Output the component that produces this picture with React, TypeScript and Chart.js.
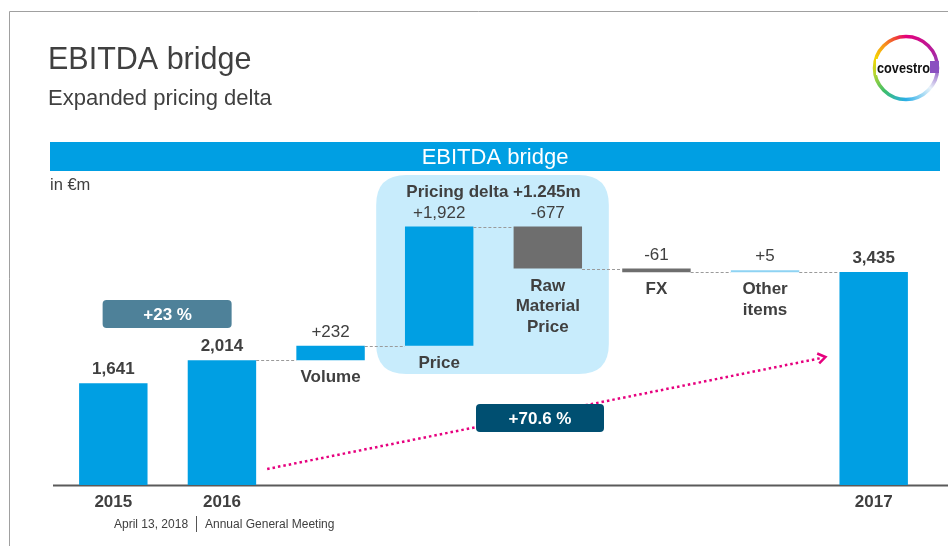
import React, { useEffect, useRef } from "react";
import { Chart, registerables } from "chart.js";

Chart.register(...registerables);

// ---- data ----
const categories = ["2015", "2016", "Volume", "Price", "Raw Material Price", "FX", "Other items", "2017"];
const total2015 = 1641;
const total2016 = 2014;
const deltas = [232, 1922, -677, -61, 5]; // Volume, Price, Raw Material Price, FX, Other items
const total2017 = 3435;
const valueLabels = ["1,641", "2,014", "+232", "+1,922", "-677", "-61", "+5", "3,435"];
const valueBold = [true, true, false, false, false, false, false, true];
const barLabels = [[], [], ["Volume"], ["Price"], ["Raw", "Material", "Price"], ["FX"], ["Other", "items"], []];
const yearLabels = ["2015", "2016", "", "", "", "", "", "2017"];
const barKinds = ["total", "total", "up", "up", "down", "down", "small", "total"];
const pricingDeltaLabel = "Pricing delta +1.245m";
const growth2016Label = "+23 %";
const growth2017Label = "+70.6 %";

const FONT = '"Liberation Sans", Arial, sans-serif';
const BLUE = "#009FE3";
const GREY_BAR = "#6E6E6E";
const LIGHT = "#8ED3F3";
const TEXT = "#404040";

function buildFloats(): [number, number][] {
  const out: [number, number][] = [[0, total2015], [0, total2016]];
  let cum = total2016;
  for (const d of deltas) {
    out.push([cum, cum + d]);
    cum += d;
  }
  out.push([0, total2017]);
  return out;
}

function roundRect(ctx: CanvasRenderingContext2D, x: number, y: number, w: number, h: number, r: number) {
  ctx.beginPath();
  ctx.moveTo(x + r, y);
  ctx.lineTo(x + w - r, y);
  ctx.quadraticCurveTo(x + w, y, x + w, y + r);
  ctx.lineTo(x + w, y + h - r);
  ctx.quadraticCurveTo(x + w, y + h, x + w - r, y + h);
  ctx.lineTo(x + r, y + h);
  ctx.quadraticCurveTo(x, y + h, x, y + h - r);
  ctx.lineTo(x, y + r);
  ctx.quadraticCurveTo(x, y, x + r, y);
  ctx.closePath();
}

export default function App() {
  const ref = useRef<HTMLCanvasElement | null>(null);

  useEffect(() => {
    const canvas = ref.current;
    if (!canvas) return;
    const floats = buildFloats();
    const colors = barKinds.map((k) => (k === "down" ? GREY_BAR : k === "small" ? LIGHT : BLUE));

    const decorations = {
      id: "decorations",
      beforeDatasetsDraw(chart: any) {
        const ctx: CanvasRenderingContext2D = chart.ctx;
        const area = chart.chartArea;
        const xs = chart.scales.x;
        const W = chart.width;
        const H = chart.height;
        ctx.save();
        ctx.fillStyle = "#ffffff";
        ctx.fillRect(0, 0, W, H);
        // slide frame
        ctx.strokeStyle = "#a0a0a0";
        ctx.lineWidth = 1;
        ctx.beginPath();
        ctx.moveTo(9.5, H);
        ctx.lineTo(9.5, 11.5);
        ctx.lineTo(W, 11.5);
        ctx.stroke();
        // titles
        ctx.fillStyle = TEXT;
        ctx.textAlign = "left";
        ctx.textBaseline = "alphabetic";
        ctx.font = `30.5px ${FONT}`;
        ctx.fillText("EBITDA bridge", 48, 69);
        ctx.font = `22px ${FONT}`;
        ctx.fillText("Expanded pricing delta", 48, 105);
        // logo
        const cx = 906, cy = 68, r = 31.5;
        const g = (ctx as any).createConicGradient(-Math.PI / 2, cx, cy);
        g.addColorStop(0, "#E4007C");
        g.addColorStop(0.17, "#B0209E");
        g.addColorStop(0.25, "#8A4FC0");
        g.addColorStop(0.36, "#E8F2FA");
        g.addColorStop(0.5, "#2AAEE8");
        g.addColorStop(0.62, "#3DBE6A");
        g.addColorStop(0.72, "#B6D630");
        g.addColorStop(0.8, "#F5D400");
        g.addColorStop(0.88, "#F7941D");
        g.addColorStop(0.95, "#EF4136");
        g.addColorStop(1, "#E4007C");
        ctx.strokeStyle = g;
        ctx.lineWidth = 3.5;
        ctx.beginPath();
        ctx.arc(cx, cy, r, 0, Math.PI * 2);
        ctx.stroke();
        ctx.fillStyle = "#ffffff";
        ctx.fillRect(876, 59, 54, 16);
        ctx.fillStyle = "#8A4FC0";
        ctx.fillRect(930, 61, 9, 12);
        ctx.fillStyle = "#111111";
        ctx.font = `bold 15px ${FONT}`;
        const tw = ctx.measureText("covestro").width;
        ctx.save();
        ctx.translate(877, 73);
        ctx.scale(53 / tw, 1);
        ctx.fillText("covestro", 0, 0);
        ctx.restore();
        // banner
        ctx.fillStyle = "#009FE3";
        ctx.fillRect(50, 142, 890, 29);
        ctx.fillStyle = "#ffffff";
        ctx.textAlign = "center";
        ctx.font = `22px ${FONT}`;
        ctx.fillText("EBITDA bridge", 495, 164);
        // unit
        ctx.fillStyle = TEXT;
        ctx.textAlign = "left";
        ctx.font = `16.5px ${FONT}`;
        ctx.fillText("in €m", 50, 190);
        // pricing delta highlight box
        const pX = xs.getPixelForValue(3);
        const rX = xs.getPixelForValue(4);
        ctx.fillStyle = "#C8ECFC";
        roundRect(ctx, pX - 63, area.top, rX - pX + 124, 199, 30);
        ctx.fill();
        // baseline
        ctx.strokeStyle = "#5a5a5a";
        ctx.lineWidth = 2;
        ctx.beginPath();
        ctx.moveTo(53, area.bottom + 0.5);
        ctx.lineTo(W, area.bottom + 0.5);
        ctx.stroke();
        // footer
        ctx.fillStyle = TEXT;
        ctx.font = `12px ${FONT}`;
        ctx.textAlign = "left";
        ctx.fillText("April 13, 2018", 114, 528);
        ctx.fillText("Annual General Meeting", 205, 528);
        ctx.strokeStyle = "#555";
        ctx.lineWidth = 1;
        ctx.beginPath();
        ctx.moveTo(196.5, 516);
        ctx.lineTo(196.5, 532);
        ctx.stroke();
        ctx.restore();
      },
      afterDatasetsDraw(chart: any) {
        const ctx: CanvasRenderingContext2D = chart.ctx;
        const area = chart.chartArea;
        const xs = chart.scales.x;
        const ys = chart.scales.y;
        const els = chart.getDatasetMeta(0).data;
        ctx.save();
        // connectors
        ctx.strokeStyle = "#9a9a9a";
        ctx.lineWidth = 1;
        ctx.setLineDash([3, 2]);
        for (let i = 1; i < els.length - 1; i++) {
          const level = floats[i][1];
          const y = Math.round(ys.getPixelForValue(level)) + 0.5;
          const a = els[i];
          const b = els[i + 1];
          ctx.beginPath();
          ctx.moveTo(a.x + a.width / 2, y);
          ctx.lineTo(b.x - b.width / 2, y);
          ctx.stroke();
        }
        ctx.setLineDash([]);
        // labels
        ctx.fillStyle = TEXT;
        ctx.textAlign = "center";
        ctx.textBaseline = "alphabetic";
        for (let i = 0; i < els.length; i++) {
          const el = els[i];
          const top = Math.min(el.y, el.base);
          const bottom = Math.max(el.y, el.base);
          ctx.font = `${valueBold[i] ? "bold " : ""}17px ${FONT}`;
          ctx.fillText(valueLabels[i], el.x, top - 9);
          ctx.font = `bold 17px ${FONT}`;
          barLabels[i].forEach((t, k) => ctx.fillText(t, el.x, bottom + 22 + k * 20.5));
          if (yearLabels[i]) ctx.fillText(yearLabels[i], el.x, area.bottom + 22);
        }
        // pricing delta title
        ctx.font = `bold 17px ${FONT}`;
        ctx.fillText(pricingDeltaLabel, (xs.getPixelForValue(3) + xs.getPixelForValue(4)) / 2, 197);
        // +23 % box
        const m01 = (xs.getPixelForValue(0) + xs.getPixelForValue(1)) / 2;
        ctx.fillStyle = "#4E8199";
        roundRect(ctx, m01 - 65, 300, 129, 28, 4);
        ctx.fill();
        ctx.fillStyle = "#ffffff";
        ctx.fillText(growth2016Label, m01, 320);
        // dotted arrow
        const e1 = els[1];
        const e7 = els[7];
        const x1 = e1.x + e1.width / 2 + 11;
        const y1 = 469;
        const x2 = e7.x - e7.width / 2 - 14;
        const y2 = 357;
        ctx.strokeStyle = "#E6007E";
        ctx.lineWidth = 2.5;
        ctx.setLineDash([2.5, 3]);
        ctx.beginPath();
        ctx.moveTo(x1, y1);
        ctx.lineTo(x2 - 4, y2 + 1);
        ctx.stroke();
        ctx.setLineDash([]);
        const ang = Math.atan2(y2 - y1, x2 - x1);
        ctx.lineWidth = 2.5;
        ctx.beginPath();
        ctx.moveTo(x2 - 9 * Math.cos(ang - 0.6), y2 - 9 * Math.sin(ang - 0.6));
        ctx.lineTo(x2, y2);
        ctx.lineTo(x2 - 9 * Math.cos(ang + 0.6), y2 - 9 * Math.sin(ang + 0.6));
        ctx.stroke();
        // +70.6 % box
        ctx.fillStyle = "#004F71";
        roundRect(ctx, 476, 404, 128, 28, 4);
        ctx.fill();
        ctx.fillStyle = "#ffffff";
        ctx.font = `bold 17px ${FONT}`;
        ctx.fillText(growth2017Label, 540, 424);
        ctx.restore();
      },
    };

    const chart = new Chart(canvas, {
      type: "bar",
      data: {
        labels: categories,
        datasets: [
          {
            data: floats as any,
            backgroundColor: colors,
            borderWidth: 0,
            categoryPercentage: 1,
            barPercentage: 0.63,
            minBarLength: 2,
          },
        ],
      },
      options: {
        responsive: false,
        animation: false,
        devicePixelRatio: 1,
        layout: { padding: { left: 59, right: 20, top: 175, bottom: 61 } },
        scales: {
          x: { display: false, offset: true },
          y: { display: false, min: 0, max: 5000 },
        },
        plugins: { legend: { display: false }, tooltip: { enabled: false } },
      },
      plugins: [decorations],
    });
    return () => chart.destroy();
  }, []);

  return (
    <div style={{ position: "absolute", left: 0, top: 0, width: 948, height: 546, background: "#fff" }}>
      <canvas ref={ref} width={948} height={546} style={{ display: "block" }} />
    </div>
  );
}
